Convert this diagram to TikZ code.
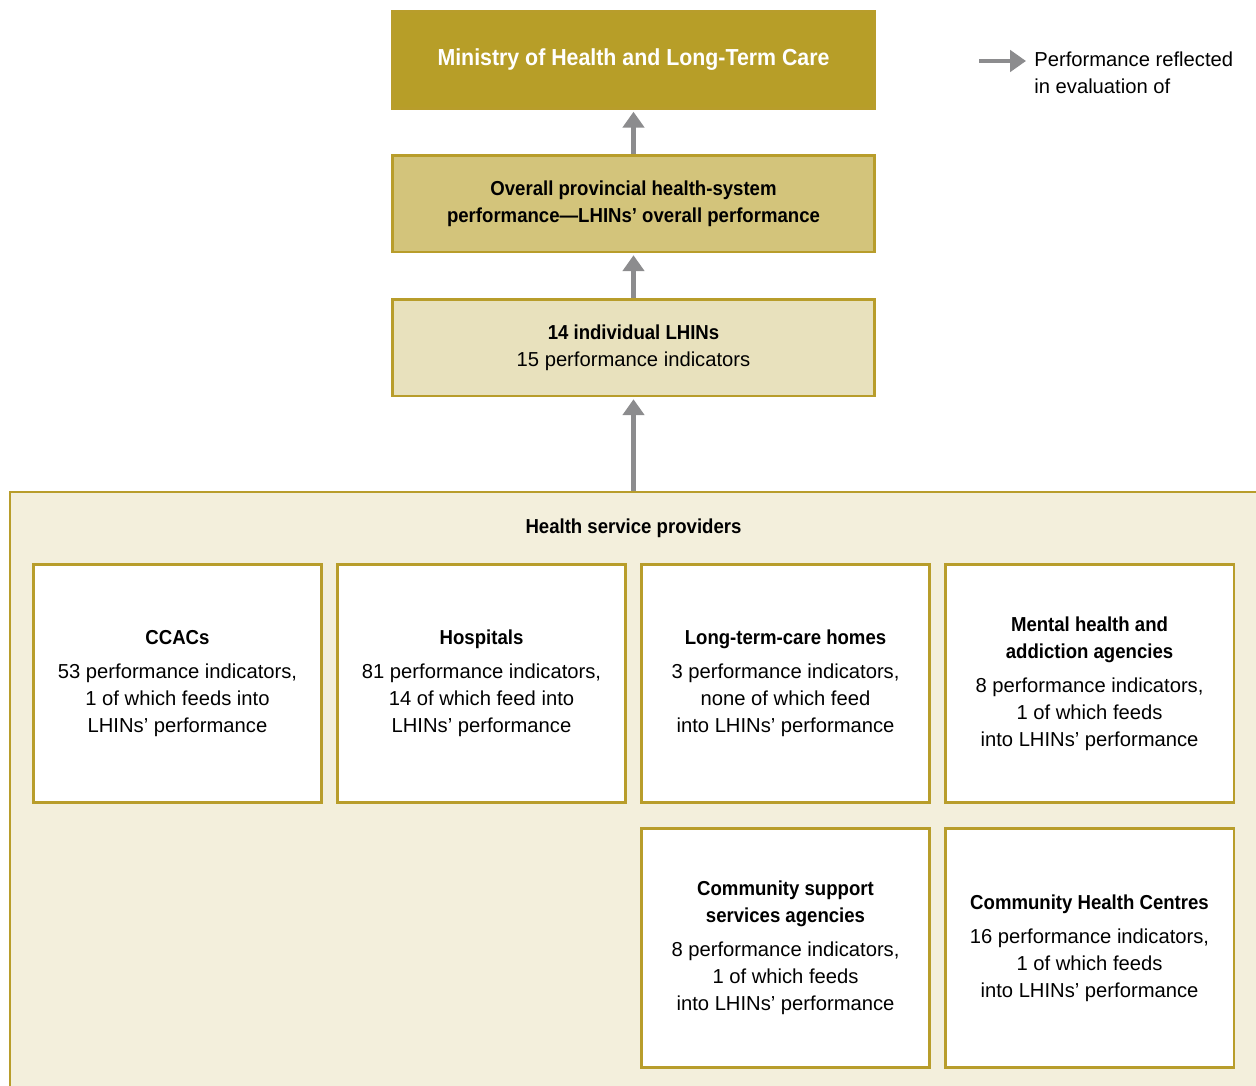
\documentclass[tikz,border=0pt]{standalone}
\usepackage{fontspec}
\setmainfont[BoldFeatures={FakeStretch=0.92}]{Liberation Sans}
\usetikzlibrary{arrows.meta}
\definecolor{ministrygold}{RGB}{183,158,40}
\definecolor{overallgold}{RGB}{211,196,123}
\definecolor{lhinsgold}{RGB}{232,225,189}
\definecolor{hspcream}{RGB}{243,239,220}
\definecolor{edgegold}{RGB}{184,157,43}
\definecolor{arrowgray}{RGB}{140,140,142}
\begin{document}
\begin{tikzpicture}[x=0.02cm,y=-0.02cm,
  every node/.style={font=\fontsize{11.5pt}{15.3pt}\selectfont, align=center, inner sep=0pt},
  topbox/.style={draw=edgegold, line width=1.7pt, minimum width=9.66cm, minimum height=1.94cm},
  hspbox/.style={draw=edgegold, line width=1.7pt, fill=white, minimum width=5.78cm, minimum height=4.78cm},
  container/.style={draw=edgegold, line width=1.3pt, fill=hspcream},
  flow/.style={draw=arrowgray, line width=2.3pt, -{Triangle[width=12pt,length=9pt]}, shorten >=1pt}]
\useasboundingbox (0,0) rectangle (1256,1085);
\clip (0,0) rectangle (1256,1085);
% top of the chain
\node[topbox, fill=ministrygold, text=white, font=\fontsize{13.2pt}{16pt}\selectfont\bfseries] (ministry) at (633.5,60) {Ministry of Health and Long-Term Care};
\node[topbox, fill=overallgold, font=\fontsize{11.5pt}{15.3pt}\selectfont\bfseries] (overall) at (633.5,203.5) {Overall provincial health-system\\performance---LHINs' overall performance};
\node[topbox, fill=lhinsgold] (lhins) at (633.5,347.5) {\textbf{14 individual LHINs}\\15 performance indicators};
% providers
\node[container, anchor=north west, minimum width=25.6cm, minimum height=12.4cm] (hsp) at (9,491) {};
\node (hsptitle) at (633.5,528) {\textbf{Health service providers}};
\node[hspbox] (ccac) at (177.5,683.5) {\textbf{CCACs}\\[4pt]53 performance indicators,\\1 of which feeds into\\LHINs' performance};
\node[hspbox] (hosp) at (481.5,683.5) {\textbf{Hospitals}\\[4pt]81 performance indicators,\\14 of which feed into\\LHINs' performance};
\node[hspbox] (ltc) at (785.5,683.5) {\textbf{Long-term-care homes}\\[4pt]3 performance indicators,\\none of which feed\\into LHINs' performance};
\node[hspbox] (mha) at (1089.5,683.5) {\textbf{Mental health and}\\\textbf{addiction agencies}\\[4pt]8 performance indicators,\\1 of which feeds\\into LHINs' performance};
\node[hspbox] (css) at (785.5,948) {\textbf{Community support}\\\textbf{services agencies}\\[4pt]8 performance indicators,\\1 of which feeds\\into LHINs' performance};
\node[hspbox] (chc) at (1089.5,948) {\textbf{Community Health Centres}\\[4pt]16 performance indicators,\\1 of which feeds\\into LHINs' performance};
% arrows
\draw[flow] (overall) -- (ministry);
\draw[flow] (lhins) -- (overall);
\draw[flow] (lhins.south |- hsp.north) -- (lhins);
% legend
\coordinate (keyfrom) at (979,61);
\coordinate (keyto) at (1026,61);
\draw[flow, shorten >=0pt] (keyfrom) -- (keyto);
\node[anchor=west, align=left] (keytext) at (1034,73) {Performance reflected\\in evaluation of};
\end{tikzpicture}
\end{document}
